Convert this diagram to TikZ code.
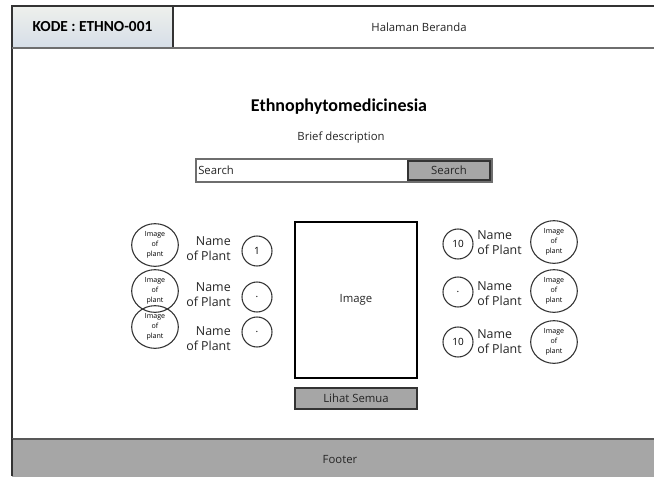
\documentclass[tikz,border=0pt]{standalone}
\usepackage{fontspec}
\setmainfont{Open Sans}
\newfontfamily\kodefont{Carlito}
\usetikzlibrary{shapes.geometric}
\definecolor{btngray}{HTML}{A6A6A6}
\definecolor{linedark}{HTML}{333333}
\definecolor{linegray}{HTML}{6E6E6E}
\definecolor{kodetop}{HTML}{EEF0EC}
\definecolor{kodebot}{HTML}{D6DEE8}
\tikzset{
  ui/.style={font=\fontsize{8.5}{10}\selectfont, text=black!85},
  imgcirc/.style={ellipse, draw=linedark, line width=0.8pt, minimum width=35pt, minimum height=32pt, inner sep=0pt, align=center, font=\fontsize{5.3}{7.3}\selectfont},
  numcirc/.style={circle, draw=linedark, line width=0.8pt, minimum size=22.5pt, inner sep=0pt, font=\fontsize{7.5}{9}\selectfont},
  plantname/.style={font=\fontsize{9.3}{11.3}\selectfont, text=black!85, inner sep=0pt},
  grbtn/.style={draw=linedark, fill=btngray, line width=0.8pt, inner sep=0pt}
}
\begin{document}
\begin{tikzpicture}[x=0.75pt,y=-0.75pt]
\useasboundingbox (0,0) rectangle (654,476);
\fill[white] (0,0) rectangle (654,476);
% page frame
\draw[linedark, line width=1.2pt] (12,476) -- (12,6) -- (660,6);
% header
\node[draw=linedark, line width=0.8pt, top color=kodetop, bottom color=kodebot, minimum width=120.75pt, minimum height=31.5pt, inner sep=0pt, font=\kodefont\bfseries\fontsize{11.5}{13}\selectfont] (kode) at (92.5,27) {KODE : ETHNO-001};
\node[ui] (halaman) at (419,27) {Halaman Beranda};
\draw[linegray, line width=1.6pt] (12,48) -- (660,48);
% title
\node[font=\kodefont\bfseries\fontsize{13.5}{15}\selectfont] (title) at (339,107) {Ethnophytomedicinesia};
\node[ui] (brief) at (341,138) {Brief description};
% search
\node[draw=linegray, line width=1.4pt, minimum width=222pt, minimum height=17.25pt, inner sep=0pt] (searchfield) at (344,170.5) {};
\node[ui, anchor=west, inner sep=0pt] (searchtext) at (198,170.5) {Search};
\node[grbtn, minimum width=61.5pt, minimum height=14.25pt, ui] (searchbtn) at (449,170.5) {Search};
% image box
\node[draw=black, line width=0.8pt, minimum width=91.5pt, minimum height=117pt, inner sep=0pt, ui] (imagebox) at (356,300) {Image};
\node[grbtn, minimum width=91.5pt, minimum height=15.75pt, ui] (lihat) at (356,398.5) {Lihat Semua};
% left list
\node[imgcirc] (limg1) at (155,245) {Image\\of\\plant};
\node[imgcirc] (limg2) at (155,291) {Image\\of\\plant};
\node[imgcirc] (limg3) at (155,327) {Image\\of\\plant};
\node[plantname, align=right, anchor=east] (lname1) at (231,249) {Name\\of Plant};
\node[plantname, align=right, anchor=east] (lname2) at (231,295) {Name\\of Plant};
\node[plantname, align=right, anchor=east] (lname3) at (231,339) {Name\\of Plant};
\node[numcirc] (lnum1) at (257,251) {1};
\node[numcirc] (lnum2) at (257,297) {.};
\node[numcirc] (lnum3) at (257,332) {.};
% right list
\node[numcirc] (rnum1) at (458,244) {10};
\node[numcirc] (rnum2) at (458,292) {.};
\node[numcirc] (rnum3) at (458,342) {10};
\node[plantname, align=left, anchor=west] (rname1) at (477,243) {Name\\of Plant};
\node[plantname, align=left, anchor=west] (rname2) at (477,294) {Name\\of Plant};
\node[plantname, align=left, anchor=west] (rname3) at (477,342) {Name\\of Plant};
\node[imgcirc] (rimg1) at (554,242) {Image\\of\\plant};
\node[imgcirc] (rimg2) at (554,291) {Image\\of\\plant};
\node[imgcirc] (rimg3) at (554,342) {Image\\of\\plant};
% footer
\fill[btngray] (12,439) rectangle (660,480);
\draw[linegray!80!black, line width=1.6pt] (12,439) -- (660,439);
\draw[linedark, line width=1.2pt] (12,439) -- (12,476);
\node[ui] (footer) at (340,460) {Footer};
\end{tikzpicture}
\end{document}
